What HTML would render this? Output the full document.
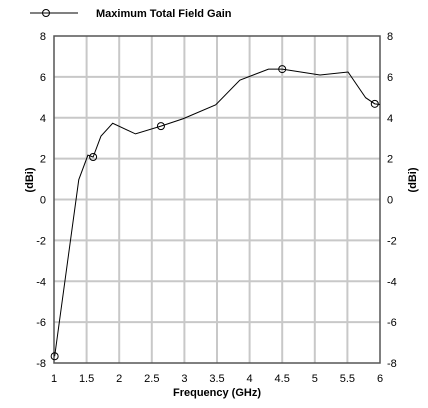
<!DOCTYPE html>
<html><head><meta charset="utf-8"><style>
body{margin:0;background:#fff;width:428px;height:408px;overflow:hidden}
svg{display:block;font-family:"Liberation Sans",Arial,sans-serif}
</style></head><body>
<svg id="c" width="428" height="408">
<g>
<line x1="30" y1="13" x2="78" y2="13" stroke="#000" stroke-width="1"/>
<circle cx="46" cy="13" r="3.5" fill="none" stroke="#000"/>
<text x="96" y="17" font-size="11" font-weight="bold">Maximum Total Field Gain</text>
</g>
</svg>
<script>
const freqs=[1.01,1.38,1.52,1.60,1.72,1.90,2.25,2.64,2.98,3.48,3.85,4.29,4.50,5.08,5.51,5.78,5.92,6.0];
const gains=[-7.67,0.97,2.17,2.08,3.1,3.73,3.21,3.59,3.95,4.63,5.84,6.38,6.38,6.09,6.24,4.98,4.68,4.65];
const markerFreqs=[1.01,1.60,2.64,4.50,5.92];
const markerGains=[-7.67,2.08,3.59,6.38,4.68];
const xTicks=[1,1.5,2,2.5,3,3.5,4,4.5,5,5.5,6];
const xTickLabels=["1","1.5","2","2.5","3","3.5","4","4.5","5","5.5","6"];
const yTicks=[-8,-6,-4,-2,0,2,4,6,8];
const L=54,R=380,T=36,B=363;
const X=v=>L+(v-1)/5*(R-L);
const Y=v=>B-(v+8)/16*(B-T);
const s=document.getElementById('c');
const NS='http://www.w3.org/2000/svg';
function mk(t,a,p){const e=document.createElementNS(NS,t);for(const k in a)e.setAttribute(k,a[k]);(p||s).appendChild(e);return e;}
xTicks.forEach((v,i)=>{
 if(v>1&&v<6){const g=mk('line',{x1:X(v),x2:X(v),y1:T,y2:B,stroke:'#c8c8c8','stroke-width':2});
 
 }
 const t=mk('text',{x:X(v),y:382,'font-size':11,'text-anchor':'middle'});t.textContent=xTickLabels[i];
 
 
});
yTicks.forEach(v=>{
 if(v>-8&&v<8){const g=mk('line',{x1:L,x2:R,y1:Y(v),y2:Y(v),stroke:'#c8c8c8','stroke-width':2});
 
 }
 const t=mk('text',{x:46,y:Y(v)+4,'font-size':11,'text-anchor':'end'});t.textContent=v;
 
 
 const t2=mk('text',{x:387,y:Y(v)+4,'font-size':11});t2.textContent=v;
 
 
});
const fr=mk('rect',{x:L,y:T,width:R-L,height:B-T,fill:'none',stroke:'#555','stroke-width':1.5});


const pl=mk('polyline',{points:freqs.map((f,i)=>X(f)+','+Y(gains[i])).join(' '),fill:'none',stroke:'#000','stroke-width':1});


markerFreqs.forEach((f,i)=>{const c=mk('circle',{cx:X(f),cy:Y(markerGains[i]),r:3.5,fill:'none',stroke:'#000'});
 
 });
const xt=mk('text',{x:217,y:396,'font-size':11,'font-weight':'bold','text-anchor':'middle'});xt.textContent='Frequency (GHz)';


const yl=mk('text',{x:0,y:0,'font-size':11,'font-weight':'bold','text-anchor':'middle',transform:'translate(33,180) rotate(-90)'});yl.textContent='(dBi)';


const yr=mk('text',{x:0,y:0,'font-size':11,'font-weight':'bold','text-anchor':'middle',transform:'translate(416,180) rotate(-90)'});yr.textContent='(dBi)';


</script>
</body></html>
